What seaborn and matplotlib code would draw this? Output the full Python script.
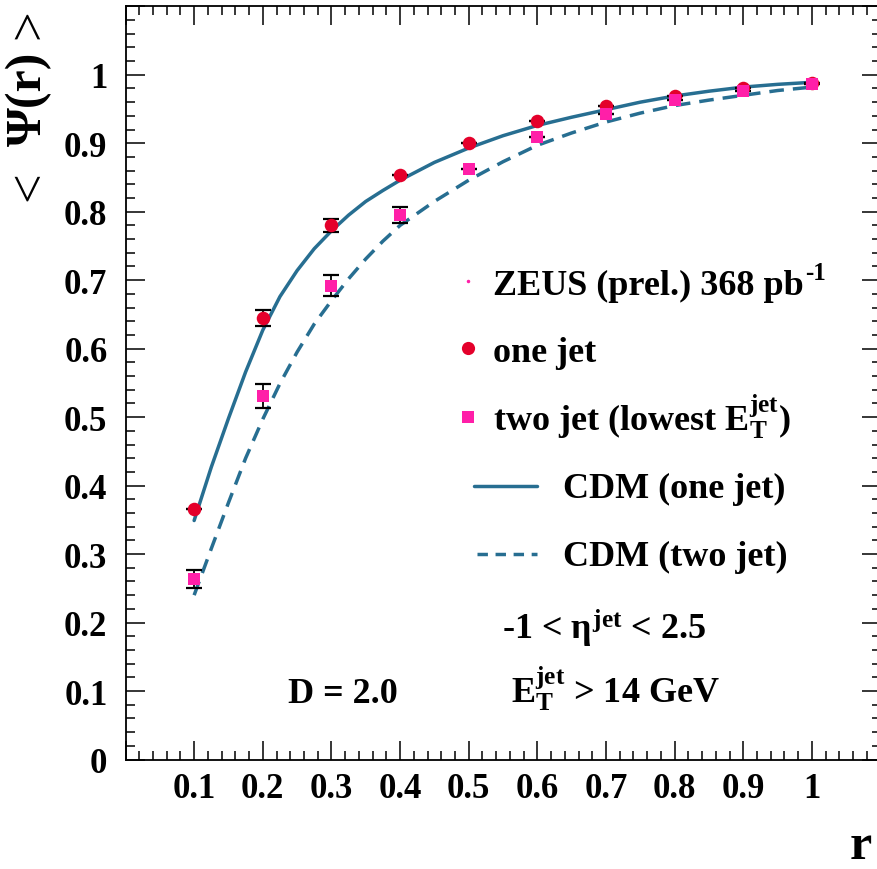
import numpy as np
import pandas as pd
import matplotlib
matplotlib.use("Agg")
import matplotlib.pyplot as plt
import seaborn as sns
from matplotlib.ticker import MultipleLocator, FuncFormatter
from matplotlib.lines import Line2D

# ---------------- data ----------------
r_points = [0.1, 0.2, 0.3, 0.4, 0.5, 0.6, 0.7, 0.8, 0.9, 1.0]
psi_one = [0.366, 0.645, 0.780, 0.854, 0.901, 0.932, 0.954, 0.969, 0.980, 0.988]
err_one = [0.0, 0.012, 0.010, 0.0, 0.0, 0.0, 0.0, 0.0, 0.0, 0.0]
psi_two = [0.264, 0.531, 0.692, 0.795, 0.863, 0.909, 0.942, 0.963, 0.977, 0.986]
err_two = [0.013, 0.017, 0.015, 0.012, 0.0, 0.0, 0.0, 0.0, 0.0, 0.0]

r_curve = [0.10, 0.125, 0.15, 0.175, 0.20, 0.225, 0.25, 0.275, 0.30, 0.325, 0.35, 0.375,
           0.40, 0.45, 0.50, 0.55, 0.60, 0.65, 0.70, 0.75, 0.80, 0.85, 0.90, 0.95, 1.00]
cdm_one = [0.349, 0.427, 0.498, 0.566, 0.627, 0.676, 0.714, 0.746, 0.772, 0.795, 0.815, 0.831,
           0.846, 0.872, 0.893, 0.911, 0.926, 0.938, 0.949, 0.960, 0.969, 0.976, 0.982, 0.986, 0.989]
cdm_two = [0.240, 0.308, 0.375, 0.440, 0.497, 0.549, 0.595, 0.636, 0.670, 0.702, 0.731, 0.757,
           0.780, 0.815, 0.846, 0.873, 0.897, 0.915, 0.931, 0.944, 0.955, 0.963, 0.970, 0.977, 0.982]

x_ticklabels = ["0.1", "0.2", "0.3", "0.4", "0.5", "0.6", "0.7", "0.8", "0.9", "1"]

# ---------------- style ----------------
sns.set_style("white")
plt.rcParams['font.family'] = ['Liberation Serif', 'DejaVu Serif']
plt.rcParams['font.weight'] = 'bold'
plt.rcParams['text.color'] = 'black'
plt.rcParams['xtick.color'] = 'black'
plt.rcParams['ytick.color'] = 'black'
plt.rcParams['mathtext.fontset'] = 'custom'
plt.rcParams['mathtext.rm'] = 'Liberation Serif:bold'
plt.rcParams['mathtext.it'] = 'Liberation Serif:bold'
plt.rcParams['mathtext.bf'] = 'Liberation Serif:bold'

W, H = 877, 870
fig = plt.figure(figsize=(W / 100, H / 100), dpi=100)
fig.patch.set_facecolor('white')

left_px, right_px, top_px, bot_px = 125.5, 880.5, 7.3, 760.5
ax = fig.add_axes([left_px / W, 1 - bot_px / H, (right_px - left_px) / W, (bot_px - top_px) / H])
ax.set_facecolor('white')

LINE_C = '#276e91'
RED = '#e4002b'
PINK = '#ff1fa8'

curves = pd.DataFrame({'r': r_curve, 'one': cdm_one, 'two': cdm_two})
pts = pd.DataFrame({'r': r_points, 'one': psi_one, 'two': psi_two,
                    'e1': err_one, 'e2': err_two})

sns.lineplot(data=curves, x='r', y='one', ax=ax, color=LINE_C, lw=2.5, zorder=2)
sns.lineplot(data=curves, x='r', y='two', ax=ax, color=LINE_C, lw=2.5, zorder=2,
             linestyle=(0, (4.2, 2.6)))

ax.errorbar(pts['r'], pts['one'], yerr=pts['e1'], fmt='none', ecolor='black',
            elinewidth=1.3, capsize=6, capthick=1.6, zorder=3)
ax.errorbar(pts['r'], pts['two'], yerr=pts['e2'], fmt='none', ecolor='black',
            elinewidth=1.3, capsize=6, capthick=1.6, zorder=3)
sns.scatterplot(data=pts, x='r', y='one', ax=ax, color=RED, marker='o', s=95,
                linewidth=0, zorder=4)
sns.scatterplot(data=pts, x='r', y='two', ax=ax, color=PINK, marker='s', s=85,
                linewidth=0, zorder=5)

ax.set_xlim(0, 1.1)
ax.set_ylim(0, 1.1)
ax.set_xlabel('')
ax.set_ylabel('')

ax.xaxis.set_major_locator(MultipleLocator(0.1))
ax.xaxis.set_minor_locator(MultipleLocator(0.02))
ax.yaxis.set_major_locator(MultipleLocator(0.1))
ax.yaxis.set_minor_locator(MultipleLocator(0.02))


def xfmt(v, pos):
    v = round(v, 3)
    if v < 0.05 or v > 1.05:
        return ''
    return x_ticklabels[int(round(v * 10)) - 1]


def yfmt(v, pos):
    v = round(v, 3)
    if v > 1.05:
        return ''
    return f"{v:g}"


ax.xaxis.set_major_formatter(FuncFormatter(xfmt))
ax.yaxis.set_major_formatter(FuncFormatter(yfmt))
ax.tick_params(which='both', direction='in', top=True, right=True, bottom=True, left=True,
               width=1.1, color='black', labelcolor='black')
ax.tick_params(which='major', length=13.5)
ax.tick_params(which='minor', length=6.5)
ax.tick_params(axis='x', which='major', pad=9, labelsize=25)
ax.tick_params(axis='y', which='major', pad=13, labelsize=25)
for lab in ax.get_xticklabels() + ax.get_yticklabels():
    lab.set_fontweight('bold')
for sp in ax.spines.values():
    sp.set_visible(True)
    sp.set_color('black')
    sp.set_linewidth(1.3)


def fx(px):
    return px / W


def fy(py):
    return 1 - py / H


TXT = dict(fontsize=26, fontweight='bold', va='baseline', ha='left', color='black')

# legend-like block
fig.text(fx(493), fy(295), "ZEUS (prel.) 368 pb", **TXT)
fig.text(fx(805), fy(280), "-1", fontsize=18, fontweight='bold', va='baseline', ha='left')
fig.text(fx(493), fy(362), "one jet", **TXT)
fig.text(fx(493), fy(431), r"two jet (lowest E$_{\mathrm{T}}^{\mathrm{jet}}$)", **TXT)
fig.text(fx(563), fy(498), "CDM (one jet)", **TXT)
fig.text(fx(563), fy(566), "CDM (two jet)", **TXT)

fig.add_artist(Line2D([fx(468)], [fy(282)], marker='o', color=PINK, ms=1.5, lw=0))
fig.add_artist(Line2D([fx(468)], [fy(349)], marker='o', color=RED, ms=9.5, lw=0, mew=0))
fig.add_artist(Line2D([fx(468)], [fy(418)], marker='s', color=PINK, ms=8.5, lw=0, mew=0))
fig.add_artist(Line2D([fx(474), fx(537)], [fy(487), fy(487)], color=LINE_C, lw=2.5))
fig.add_artist(Line2D([fx(477), fx(537)], [fy(555), fy(555)], color=LINE_C, lw=2.5,
                      linestyle=(0, (3.0, 2.2))))

fig.text(fx(502), fy(640), r"-1 < $\eta^{\mathrm{jet}}$ < 2.5", **TXT)
fig.text(fx(288), fy(703), "D = 2.0", **TXT)
fig.text(fx(511), fy(703), r"E$_{\mathrm{T}}^{\mathrm{jet}}$ > 14 GeV", **TXT)

# axis titles
fig.text(fx(850), fy(859), "r", fontsize=36, fontweight='bold', va='baseline', ha='left')
fig.text(fx(54), fy(24), ">", fontsize=38, fontweight='normal', rotation=90,
         ha='right', va='center')
fig.text(fx(52), fy(99), "Ψ(r)", fontsize=36, fontweight='bold', rotation=90,
         ha='right', va='center')
fig.text(fx(54), fy(186), "<", fontsize=38, fontweight='normal', rotation=90,
         ha='right', va='center')

fig.savefig("out.png", dpi=100, facecolor='white')
